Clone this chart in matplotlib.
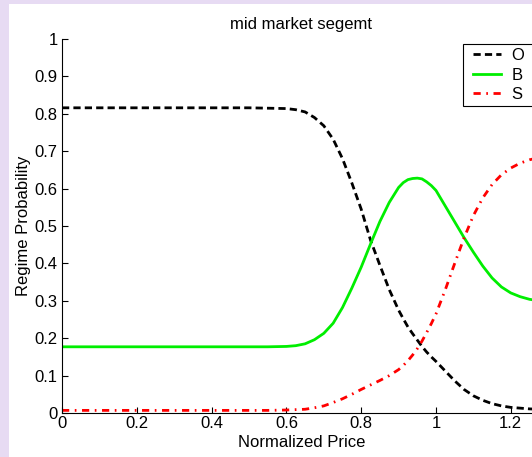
import numpy as np
import matplotlib
matplotlib.use("Agg")
import matplotlib.pyplot as plt
from matplotlib.patches import Rectangle

plt.rcParams['font.family'] = ['Liberation Sans', 'DejaVu Sans']
plt.rcParams['font.size'] = 12

# normalized price grid and regime probabilities
price = [0.0, 0.1, 0.2, 0.3, 0.4, 0.5, 0.55, 0.6, 0.625, 0.65, 0.675, 0.7, 0.725,
         0.75, 0.775, 0.8, 0.825, 0.85, 0.875, 0.9, 0.9125, 0.925, 0.9375, 0.95,
         0.9625, 0.975, 0.9875, 1.0, 1.025, 1.05, 1.075, 1.1, 1.125, 1.15, 1.175,
         1.2, 1.225, 1.25, 1.275, 1.3]
p_O = [0.816, 0.816, 0.816, 0.816, 0.816, 0.816, 0.815, 0.814, 0.811, 0.805, 0.79,
       0.768, 0.732, 0.68, 0.615, 0.545, 0.462, 0.395, 0.33, 0.275, 0.252, 0.23,
       0.212, 0.195, 0.178, 0.163, 0.15, 0.138, 0.112, 0.086, 0.063, 0.046,
       0.034, 0.025, 0.019, 0.015, 0.013, 0.011, 0.010, 0.009]
p_B = [0.177, 0.177, 0.177, 0.177, 0.177, 0.177, 0.177, 0.178, 0.18, 0.185, 0.196,
       0.213, 0.24, 0.282, 0.334, 0.39, 0.452, 0.512, 0.563, 0.603, 0.616, 0.624,
       0.627, 0.628, 0.626, 0.618, 0.608, 0.595, 0.553, 0.511, 0.469, 0.43,
       0.393, 0.361, 0.337, 0.321, 0.311, 0.304, 0.3, 0.297]
p_S = [0.007, 0.007, 0.007, 0.007, 0.007, 0.007, 0.007, 0.008, 0.009, 0.01, 0.014,
       0.019, 0.028, 0.038, 0.05, 0.063, 0.075, 0.087, 0.1, 0.116, 0.127, 0.14,
       0.155, 0.172, 0.192, 0.215, 0.239, 0.265, 0.33, 0.4, 0.468, 0.528, 0.575,
       0.611, 0.637, 0.655, 0.668, 0.677, 0.683, 0.688]

xticks = [0, 0.2, 0.4, 0.6, 0.8, 1, 1.2]
xlabels = ['0', '0.2', '0.4', '0.6', '0.8', '1', '1.2']
yticks = [0, 0.1, 0.2, 0.3, 0.4, 0.5, 0.6, 0.7, 0.8, 0.9, 1]
ylabels = ['0', '0.1', '0.2', '0.3', '0.4', '0.5', '0.6', '0.7', '0.8', '0.9', '1']

W, H = 532, 457
fig = plt.figure(figsize=(W / 100, H / 100), dpi=100, facecolor='#e7dbf3')
fig.patches.append(Rectangle((9 / W, 0), 1, 1 - 4 / H, transform=fig.transFigure,
                             facecolor='white', edgecolor='none', zorder=-10))

ax = fig.add_axes([62 / W, 44 / H, 1.28 * 374 / W, 374 / H])
ax.set_zorder(1)
ax.set_facecolor('white')

ax.plot(price, p_O, color='black', lw=2.0, dashes=(2.6, 1.5), label='O')
ax.plot(price, p_B, color='#00ee00', lw=2.0, label='B')
ax.plot(price, p_S, color='red', lw=2.0, dashes=(2.6, 2.0, 0.6, 2.0), label='S')

ax.set_xlim(0, 1.28)
ax.set_ylim(0, 1)
ax.set_xticks(xticks)
ax.set_xticklabels(xlabels)
ax.set_yticks(yticks)
ax.set_yticklabels(ylabels)
ax.tick_params(direction='in', length=4, width=0.8, labelsize=12)
ax.tick_params(axis='x', pad=2)
ax.tick_params(axis='y', pad=3)
for side in ['top', 'right']:
    ax.spines[side].set_visible(False)
for side in ['left', 'bottom']:
    ax.spines[side].set_linewidth(0.8)

ax.set_xlabel('Normalized Price', fontsize=12, labelpad=3)
ax.set_ylabel('Regime Probability', fontsize=12, labelpad=3)
ax.set_title('mid market segemt', fontsize=12, pad=7)

# legend box runs off the right edge, so draw the frame separately
ax.add_patch(Rectangle((463 / W, 1 - 106 / H), 90 / W, 62 / H,
                       transform=fig.transFigure, facecolor='white',
                       edgecolor='black', lw=0.8, zorder=4.9, clip_on=False))
leg = ax.legend(loc='upper left', bbox_to_anchor=(473 / W, 1 - 48 / H),
                bbox_transform=fig.transFigure, borderaxespad=0, borderpad=0,
                frameon=False, handlelength=1.7, handletextpad=0.6,
                labelspacing=0.27, fontsize=12)

fig.savefig('out.png', dpi=100, facecolor=fig.get_facecolor())
